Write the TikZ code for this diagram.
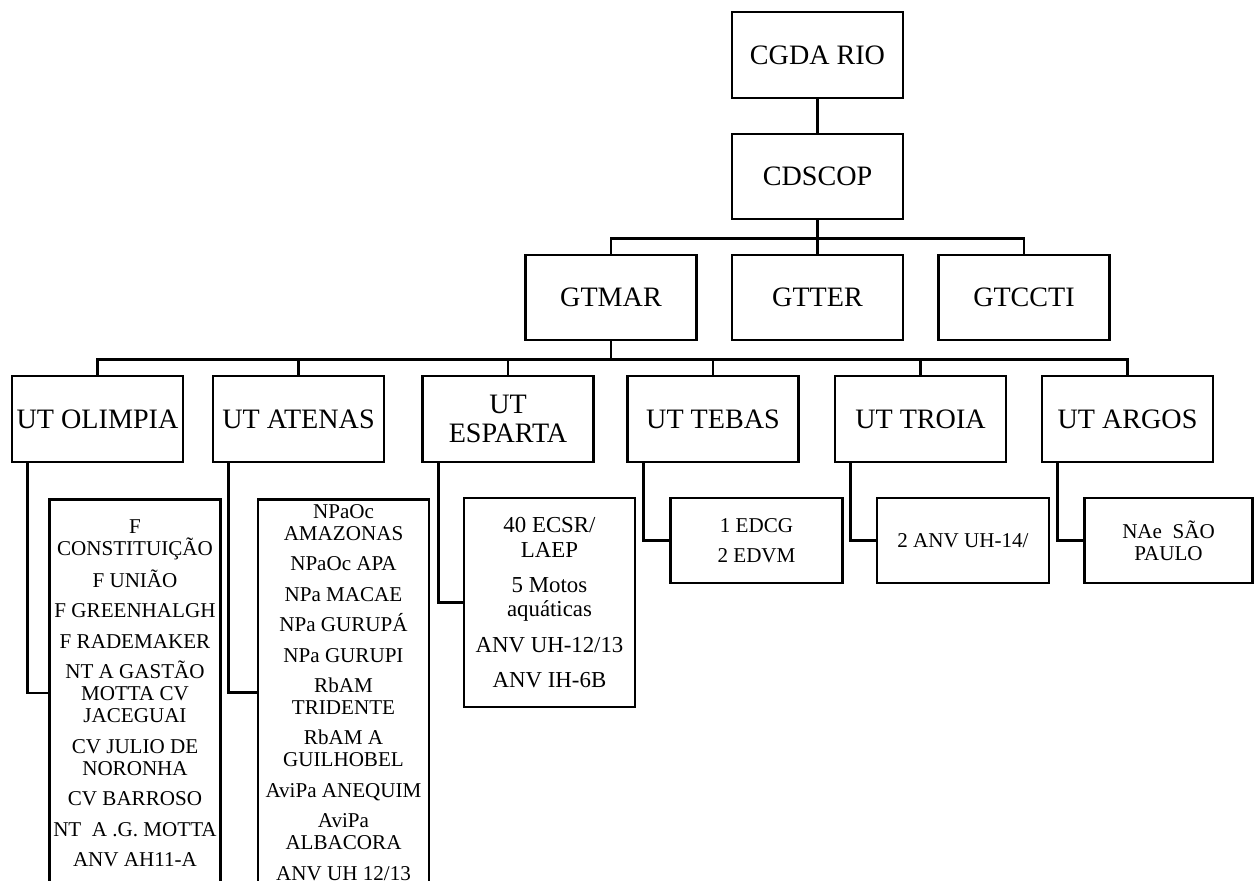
\documentclass[tikz,border=0pt]{standalone}
\usepackage{fontspec}
\setmainfont{Liberation Serif}
\tikzset{
  unitbox/.style={draw, line width=1.5pt, minimum width=3.42cm, minimum height=1.72cm, align=center, inner sep=2pt, font=\fontsize{16}{16.5}\selectfont},
  listbox/.style={draw, line width=1.5pt, align=center, inner xsep=2pt, font=\fontsize{12}{12.5}\selectfont},
  link/.style={line width=1.5pt}
}
\begin{document}
\begin{tikzpicture}[x=0.02cm, y=-0.02cm]

		\useasboundingbox (0,0) rectangle (1254,881);
		\clip (0,0) rectangle (1254,881);

		%Command levels
		\node[unitbox] (cgda) at (817.5,55) {CGDA RIO};
		\node[unitbox, minimum height=1.7cm] (cdscop) at (817.5,176.5) {CDSCOP};
		\node[unitbox, minimum height=1.7cm] (gtmar) at (611,297.5) {GTMAR};
		\node[unitbox, minimum height=1.7cm] (gtter) at (817.5,297.5) {GTTER};
		\node[unitbox, minimum height=1.7cm] (gtccti) at (1024,297.5) {GTCCTI};

		%Task units
		\node[unitbox] (olimpia) at (97.5,419) {UT OLIMPIA};
		\node[unitbox] (atenas) at (298.5,419) {UT ATENAS};
		\node[unitbox] (esparta) at (508,419) {UT\\ESPARTA};
		\node[unitbox] (tebas) at (713,419) {UT TEBAS};
		\node[unitbox] (troia) at (920.5,419) {UT TROIA};
		\node[unitbox] (argos) at (1127.5,419) {UT ARGOS};

		%Means of each unit
		\node[listbox, anchor=north, minimum width=3.4cm, inner ysep=0.4cm] (olimpiaList) at (135,498) {F\\CONSTITUIÇÃO\\[0.17cm]F UNIÃO\\[0.17cm]F GREENHALGH\\[0.17cm]F RADEMAKER\\[0.17cm]NT A GASTÃO\\MOTTA CV\\JACEGUAI\\[0.17cm]CV JULIO DE\\NORONHA\\[0.17cm]CV BARROSO\\[0.17cm]NT~~A .G. MOTTA\\[0.17cm]ANV AH11-A};
		\node[listbox, anchor=north, minimum width=3.42cm, inner ysep=0.1cm] (atenasList) at (343.5,498) {NPaOc\\AMAZONAS\\[0.17cm]NPaOc APA\\[0.17cm]NPa MACAE\\[0.17cm]NPa GURUPÁ\\[0.17cm]NPa GURUPI\\[0.17cm]RbAM\\TRIDENTE\\[0.17cm]RbAM A\\GUILHOBEL\\[0.17cm]AviPa ANEQUIM\\[0.17cm]AviPa\\ALBACORA\\[0.17cm]ANV UH 12/13};
		\node[listbox, minimum width=3.42cm, minimum height=4.18cm, font=\fontsize{13}{14}\selectfont] (espartaList) at (549.5,602.5) {40 ECSR/\\LAEP\\[0.21cm]5 Motos\\aquáticas\\[0.21cm]ANV UH-12/13\\[0.21cm]ANV IH-6B};
		\node[listbox, minimum width=3.44cm, minimum height=1.7cm] (tebasList) at (756.5,540.5) {1 EDCG\\[0.17cm]2 EDVM};
		\node[listbox, minimum width=3.44cm, minimum height=1.7cm] (troiaList) at (963,540.5) {2 ANV UH-14/};
		\node[listbox, minimum width=3.36cm, minimum height=1.7cm] (argosList) at (1168.5,540.5) {NAe~~SÃO\\PAULO};

		%Links
		\draw[link] (cgda) -- (cdscop);
		\draw[link] (cdscop.south) -- ++(0,18) coordinate (busTop);
		\draw[link] (gtmar.north) |- (busTop) -| (gtccti.north);
		\draw[link] (busTop) -- (gtter.north);
		\draw[link] (gtmar.south) -- ++(0,18) coordinate (busLow);
		\draw[link] (olimpia.north) |- (busLow) -| (argos.north);
		\foreach \unit in {atenas,esparta,tebas,troia}
			\draw[link] (\unit.north) -- (\unit.north |- busLow);
		\foreach \unit in {olimpia,atenas,esparta,tebas,troia,argos}
			\draw[link] (\unit.south west) ++(17,0) |- (\unit List.west);

\end{tikzpicture}
\end{document}
